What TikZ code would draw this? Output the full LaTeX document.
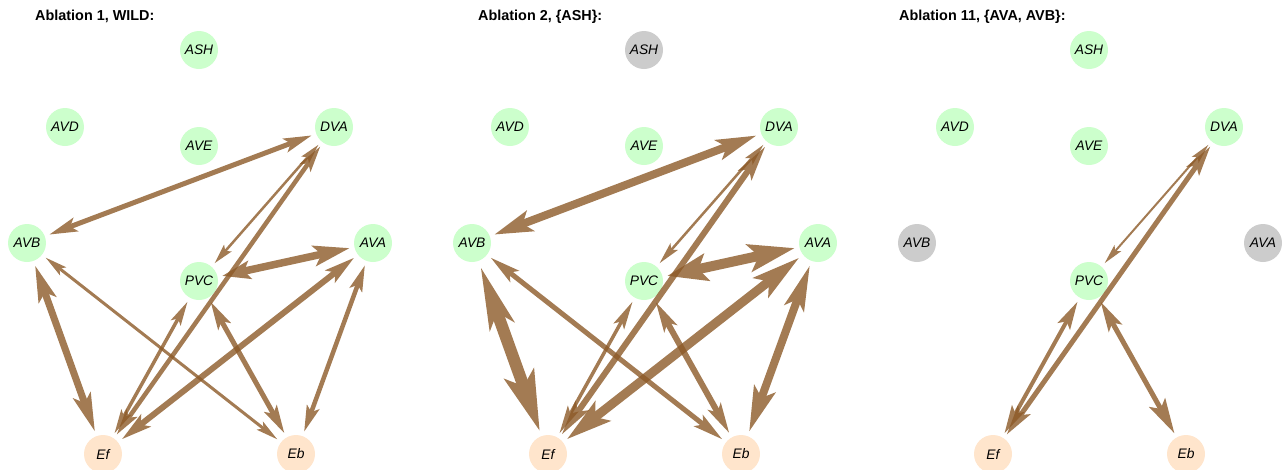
\documentclass[tikz,border=0pt]{standalone}
\usepackage{fontspec}
\newfontfamily\labelfont{Liberation Sans}
\usetikzlibrary{arrows.meta}

\definecolor{livegreen}{RGB}{204,255,204}
\definecolor{musclepeach}{RGB}{255,229,204}
\definecolor{ablated}{RGB}{204,204,204}
\definecolor{synapse}{RGB}{140,90,40}

\tikzset{
  neuron/.style={circle, minimum size=38pt, inner sep=0pt, fill=livegreen,
    font=\labelfont\itshape\fontsize{13.8}{16}\selectfont},
  muscle/.style={neuron, fill=musclepeach},
  removed/.style={neuron, fill=ablated},
  paneltitle/.style={anchor=base west, inner sep=0pt,
    font=\labelfont\bfseries\fontsize{14.4}{17}\selectfont},
  synline/.style={draw=synapse, fill=synapse, shorten <=4.5pt, shorten >=4.5pt},
}

% one connection drawn as a single translucent stroke with a head at each end
% #1 from, #2 to, #3 line width, #4/#5 head at the "from" end, #6/#7 head at the "to" end
\newcommand\syn[7]{%
  \begin{scope}[transparency group, opacity=0.8]
    \draw[synline, line width=#3pt,
      arrows={Stealth[length=#4pt,width=#5pt,inset'=0pt 0.2]-Stealth[length=#6pt,width=#7pt,inset'=0pt 0.2]}]
      (#1) -- (#2);
  \end{scope}}

% the nine cells of one circuit; #1 name prefix, #2 horizontal offset,
% #3/#4/#5 styles of ASH, AVB and AVA
\newcommand\circuit[5]{%
  \begin{scope}[xshift=#2pt]
    \node[#3]     (#1ASH) at (199,50)  {ASH};
    \node[neuron] (#1AVD) at (65,127)  {AVD};
    \node[neuron] (#1AVE) at (199,146) {AVE};
    \node[neuron] (#1DVA) at (334,127) {DVA};
    \node[#4]     (#1AVB) at (27,243)  {AVB};
    \node[#5]     (#1AVA) at (373,243) {AVA};
    \node[neuron] (#1PVC) at (199,281) {PVC};
    \node[muscle] (#1Ef)  at (103,454) {Ef};
    \node[muscle] (#1Eb)  at (296,454) {Eb};
  \end{scope}}

\begin{document}
\begin{tikzpicture}[x=1pt, y=-1pt]
  \path[use as bounding box, clip] (0,0) rectangle (1286,469);

  % panel titles
  \node[paneltitle] (t1) at (35,20)  {Ablation 1, WILD:};
  \node[paneltitle] (t2) at (478,20) {Ablation 2, \{ASH\}:};
  \node[paneltitle] (t3) at (899,20) {Ablation 11, \{AVA, AVB\}:};

  % cells
  \circuit{a}{0}{neuron}{neuron}{neuron}
  \circuit{b}{445}{removed}{neuron}{neuron}
  \circuit{c}{890}{neuron}{removed}{removed}

  % intact network
  \syn{aAVB}{aDVA}{5}{28}{14}{28}{14}
  \syn{aDVA}{aPVC}{2.5}{20}{10}{20}{10}
  \syn{aPVC}{aAVA}{7.5}{28}{18}{36}{20}
  \syn{aAVB}{aEb}{3}{22}{10}{22}{10}
  \syn{aAVB}{aEf}{7}{36}{18}{38}{18}
  \syn{aEf}{aPVC}{3.5}{24}{11}{24}{11}
  \syn{aEf}{aDVA}{4.5}{26}{13}{26}{13}
  \syn{aEf}{aAVA}{6}{30}{15}{30}{15}
  \syn{aPVC}{aEb}{5}{28}{14}{28}{14}
  \syn{aAVA}{aEb}{4.5}{26}{13}{26}{13}

  % ASH removed
  \syn{bAVB}{bDVA}{8}{38}{21}{40}{20}
  \syn{bDVA}{bPVC}{2.5}{22}{10}{22}{10}
  \syn{bPVC}{bAVA}{10}{40}{27}{46}{27}
  \syn{bAVB}{bEb}{5}{30}{14}{30}{14}
  \syn{bAVB}{bEf}{12}{62}{24}{60}{30}
  \syn{bEf}{bPVC}{3.5}{28}{12}{28}{12}
  \syn{bEf}{bDVA}{6}{35}{16}{35}{16}
  \syn{bEf}{bAVA}{9}{45}{24}{48}{24}
  \syn{bPVC}{bEb}{6}{30}{14}{30}{14}
  \syn{bAVA}{bEb}{8}{45}{20}{45}{22}

  % AVA and AVB removed
  \syn{cDVA}{cPVC}{2}{20}{9}{20}{9}
  \syn{cEf}{cDVA}{5}{30}{15}{30}{15}
  \syn{cEf}{cPVC}{4}{28}{14}{28}{14}
  \syn{cPVC}{cEb}{5}{30}{15}{35}{18}
\end{tikzpicture}
\end{document}
